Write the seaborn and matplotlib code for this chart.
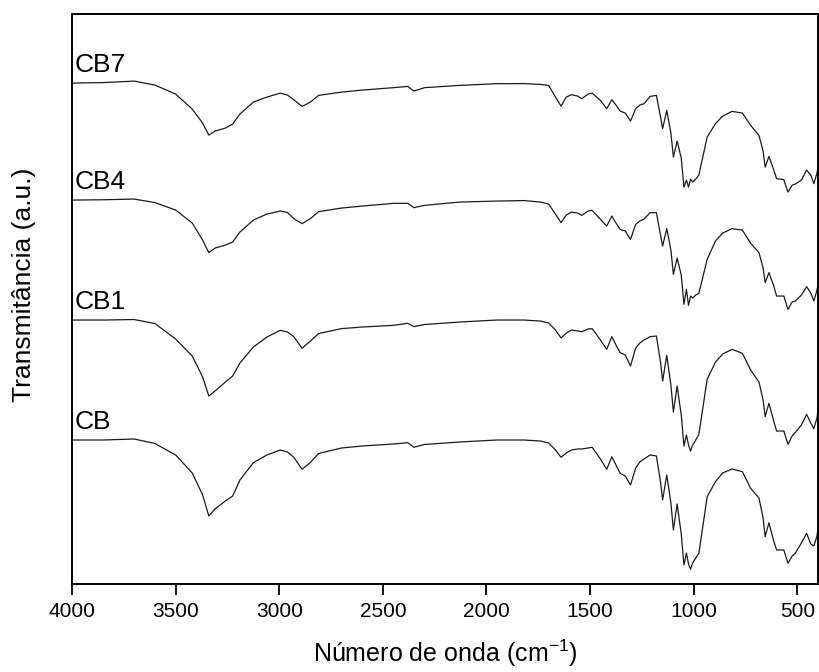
import numpy as np
import pandas as pd
import matplotlib
matplotlib.use('Agg')
from matplotlib import pyplot as plt
import seaborn as sns

# wavenumbers (cm-1)
wavenumber = [4000, 3850, 3700, 3600, 3500, 3420, 3370, 3340, 3310, 3260,
              3225, 3190, 3125, 3060, 2995, 2960, 2930, 2890, 2850, 2810,
              2700, 2600, 2450, 2380, 2350, 2300, 2130, 1950, 1820, 1740,
              1700, 1667, 1640, 1615, 1590, 1560, 1540, 1510, 1490, 1450,
              1420, 1395, 1375, 1355, 1330, 1305, 1280, 1260, 1240, 1210,
              1180, 1160, 1150, 1130, 1110, 1098, 1080, 1060, 1047, 1035,
              1025, 1015, 1005, 990, 975, 935, 895, 860, 815, 765,
              725, 685, 665, 655, 637, 615, 600, 565, 545, 525,
              510, 480, 455, 435, 420, 405, 400]

# band depth below each sample's own baseline (a.u.)
cb7 = [0, -0.5, -2, 2, 11, 26, 40, 52, 48, 45,
       41, 31, 19, 14, 10, 12, 16.6, 23.3, 19, 12.3,
       9, 7, 4.6, 3.3, 8, 4.6, 2.3, 0.6, 0.5, 1.3,
       2.3, 14, 23, 14, 11.6, 13, 15.6, 11, 10, 17.3,
       25.6, 16.6, 22, 28, 30, 38, 25.6, 22, 20.6, 13.3,
       12.3, 34, 45.6, 27.3, 50, 74, 58, 75, 104, 97,
       104, 96, 99, 96, 92, 54, 40.6, 33, 28.3, 30,
       42.3, 52.3, 68, 84, 73.3, 86, 95.6, 96.6, 109, 102,
       101, 97, 87, 92, 100.6, 90, 85]
cb4 = [0, -0.3, -1, 2.5, 10, 23, 40, 52.6, 48, 45,
       42, 32, 20, 14, 11, 12.5, 18.6, 23.6, 18.6, 11.6,
       8, 6, 3.3, 3.3, 7.6, 5.3, 2, 1, 0.5, 2,
       4, 14, 22.6, 15, 12, 13, 15.3, 11, 10.3, 19.3,
       26, 16, 23, 29.3, 31, 39.3, 24.3, 21, 19, 12.6,
       12.6, 35, 46, 28.6, 50, 74.3, 58, 75, 104.3, 89.3,
       105.3, 96, 98, 95, 93.3, 59.3, 41, 33, 28.6, 30,
       43.3, 52.6, 68, 82.6, 72.6, 85, 96, 96, 109.3, 102,
       101, 95, 86.6, 93, 101, 90, 84.3]
cb1 = [0, 0, -0.5, 3.5, 19, 36, 57, 76, 71, 62,
       56, 43, 27, 17, 10.3, 12, 16.6, 28.3, 21, 13.5,
       8.6, 7, 5.3, 3.3, 6.6, 4.5, 2, 0, 0, 1,
       3, 10, 18, 13, 10, 11, 11.6, 9, 8.6, 20,
       29.3, 16.6, 25, 32.6, 35, 46, 28, 23, 20, 16.6,
       16, 42, 61, 35.3, 65, 92, 66, 95, 126, 115,
       125, 131, 125, 120, 114.3, 59.3, 42, 34, 29.3, 33.3,
       50, 62, 80, 96.6, 83.3, 100, 111, 111, 124.3, 116,
       112.6, 105, 94.3, 103, 108.6, 98, 89.3]
cb = [0, 0, -1, 3.5, 15, 33, 55, 76, 69, 61,
      56, 40, 22.7, 15, 10, 12, 17.3, 29.3, 22.5, 13.5,
      8, 6, 4, 2.7, 7.3, 4.5, 2, 0, 0, 1,
      3, 10, 17.3, 13, 10, 9, 9, 8, 7.3, 19,
      29.3, 16.7, 25, 33.3, 36, 45, 28, 22, 19, 15,
      16, 42, 60, 35, 63, 90, 64, 94, 125, 113,
      124, 129.3, 123, 118, 113.3, 56.7, 41.7, 33, 29, 31.7,
      48.3, 58, 78, 96.7, 82.7, 100, 110, 110, 123.3, 116,
      113.3, 103, 93.3, 104, 106, 96, 88.3]

samples = ['CB', 'CB1', 'CB4', 'CB7']
depths = [cb, cb1, cb4, cb7]
offsets = [0, 120, 240, 357]   # vertical stacking of the spectra

sns.set_style('ticks')
plt.rcParams['font.family'] = ['Liberation Sans', 'DejaVu Sans']
plt.rcParams['mathtext.default'] = 'regular'
plt.rcParams['text.color'] = 'black'
plt.rcParams['axes.labelcolor'] = 'black'

fig = plt.figure(figsize=(8.19, 6.72), dpi=100)
ax = fig.add_axes([0.088, 0.131, 0.9108, 0.848])

for name, d, off in zip(samples, depths, offsets):
    df = pd.DataFrame({'wn': wavenumber, 'T': off - np.array(d)})
    sns.lineplot(data=df, x='wn', y='T', color='#1a1a1a', linewidth=0.9,
                 sort=False, ax=ax)
    ax.text(3988, off + 11, name, fontsize=19, ha='left', va='baseline')

ax.set_xlim(4000, 400)
ax.set_ylim(-144, 426)
ax.set_xticks([4000, 3500, 3000, 2500, 2000, 1500, 1000, 500])
ax.set_yticks([])
ax.tick_params(axis='x', direction='out', length=8, width=1.3,
               labelsize=15, pad=5, colors='black')
for s in ax.spines.values():
    s.set_linewidth(1.4)
    s.set_color('black')
ax.set_xlabel('Número de onda (cm$^{-1}$)', fontsize=18, labelpad=12)
ax.set_ylabel('Transmitância (a.u.)', fontsize=19)
ax.yaxis.set_label_coords(-0.049, 0.525)

plt.savefig('out.png', dpi=100)
